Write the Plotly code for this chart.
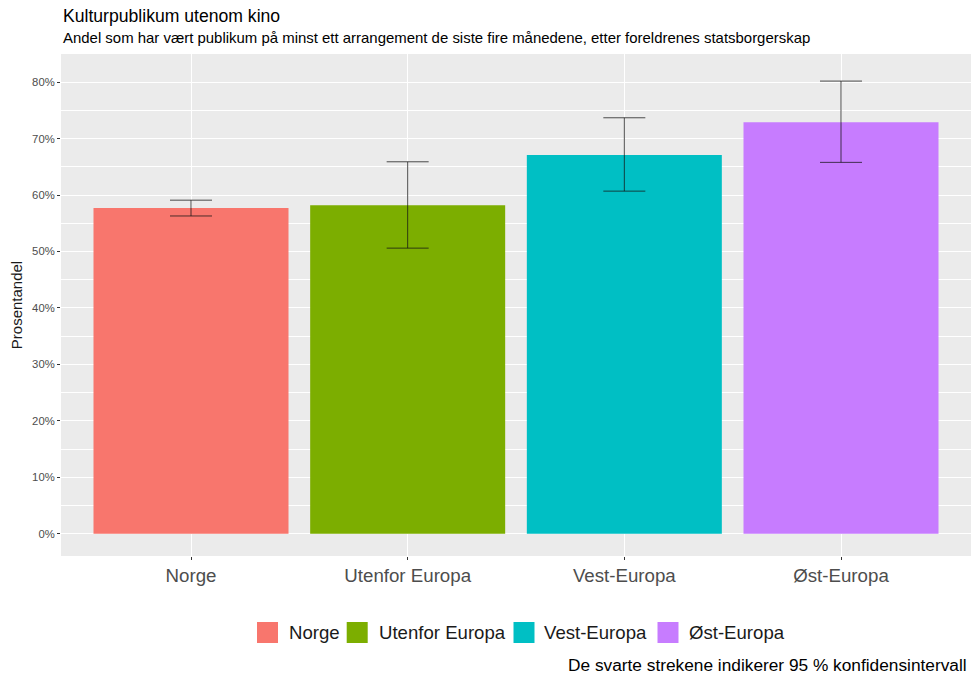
import plotly.graph_objects as go

categories = ["Norge", "Utenfor Europa", "Vest-Europa", "Øst-Europa"]
values = [57.7, 58.2, 67.1, 72.9]
ci_low = [56.3, 50.6, 60.7, 65.8]
ci_high = [59.1, 65.9, 73.7, 80.2]
colors = ["#F8766D", "#7CAE00", "#00BFC4", "#C77CFF"]
y_ticks = [0, 10, 20, 30, 40, 50, 60, 70, 80]
y_tick_labels = [f"{v}%" for v in y_ticks]

FONT = "Liberation Sans, Arial, sans-serif"

# plot-area geometry in pixels (for converting layout positions to paper coords)
W, H = 979, 676
L, R, T, B = 61, 8, 54, 120
PW, PH = W - L - R, H - T - B


def px_x(p):
    return (p - L) / PW


def px_y(p):
    return (H - B - p) / PH


fig = go.Figure()
fig.add_trace(go.Bar(
    x=categories, y=values,
    marker=dict(color=colors, line=dict(width=0)),
    width=0.9,
    showlegend=False,
    error_y=dict(
        type="data", symmetric=False,
        array=[h - v for h, v in zip(ci_high, values)],
        arrayminus=[v - l for l, v in zip(ci_low, values)],
        color="rgba(20,20,20,0.75)", thickness=1, width=21,
    ),
))

# manual legend (ggplot-style large square keys)
key_left = [257, 346.7, 513.5, 657.5]
text_left = [286.7, 376.7, 541.7, 686.7]
shapes = []
annotations = []
for c, col, kx, tx in zip(categories, colors, key_left, text_left):
    shapes.append(dict(type="rect", xref="paper", yref="paper",
                       x0=px_x(kx), x1=px_x(kx + 21), y0=px_y(643), y1=px_y(622),
                       fillcolor=col, line=dict(width=0), layer="above"))
    annotations.append(dict(text=c, xref="paper", yref="paper", x=px_x(tx), y=px_y(632.5),
                            xanchor="left", yanchor="middle", showarrow=False,
                            font=dict(size=18.6, color="#1a1a1a", family=FONT)))

annotations += [
    dict(text="Kulturpublikum utenom kino", xref="paper", yref="paper",
         x=px_x(61), y=px_y(16), xanchor="left", yanchor="middle", showarrow=False,
         font=dict(size=17.6, color="#000000", family=FONT)),
    dict(text="Andel som har vært publikum på minst ett arrangement de siste fire månedene, etter foreldrenes statsborgerskap",
         xref="paper", yref="paper", x=px_x(61), y=px_y(37), xanchor="left", yanchor="middle", showarrow=False,
         font=dict(size=14.95, color="#000000", family=FONT)),
    dict(text="De svarte strekene indikerer 95 % konfidensintervall",
         xref="paper", yref="paper", x=px_x(969), y=px_y(665), xanchor="right", yanchor="middle", showarrow=False,
         font=dict(size=17.3, color="#000000", family=FONT)),
]

fig.update_layout(
    width=W, height=H,
    margin=dict(l=L, r=R, t=T, b=B),
    paper_bgcolor="white",
    plot_bgcolor="#EBEBEB",
    font=dict(family=FONT, color="#1a1a1a"),
    showlegend=False,
    xaxis=dict(
        type="category", range=[-0.6, 3.6],
        showgrid=True, gridcolor="white", gridwidth=1.1,
        ticks="outside", ticklen=3, tickcolor="#333333",
        tickfont=dict(size=18.7, color="#4D4D4D", family=FONT),
        zeroline=False, showline=False,
    ),
    yaxis=dict(
        range=[-3.95, 85.0],
        tickmode="array", tickvals=y_ticks, ticktext=y_tick_labels,
        showgrid=True, gridcolor="white", gridwidth=1.1,
        minor=dict(dtick=5, tick0=5, showgrid=True, gridcolor="white", gridwidth=0.5, ticks=""),
        ticks="outside", ticklen=3, tickcolor="#333333",
        tickfont=dict(size=11.3, color="#4D4D4D", family=FONT),
        zeroline=False, showline=False,
        title=dict(text="Prosentandel", font=dict(size=15, color="#1a1a1a", family=FONT), standoff=5),
    ),
    shapes=shapes,
    annotations=annotations,
)

fig.write_html("out.html", config={"displayModeBar": False},
               post_script="document.body.style.margin='0';")
